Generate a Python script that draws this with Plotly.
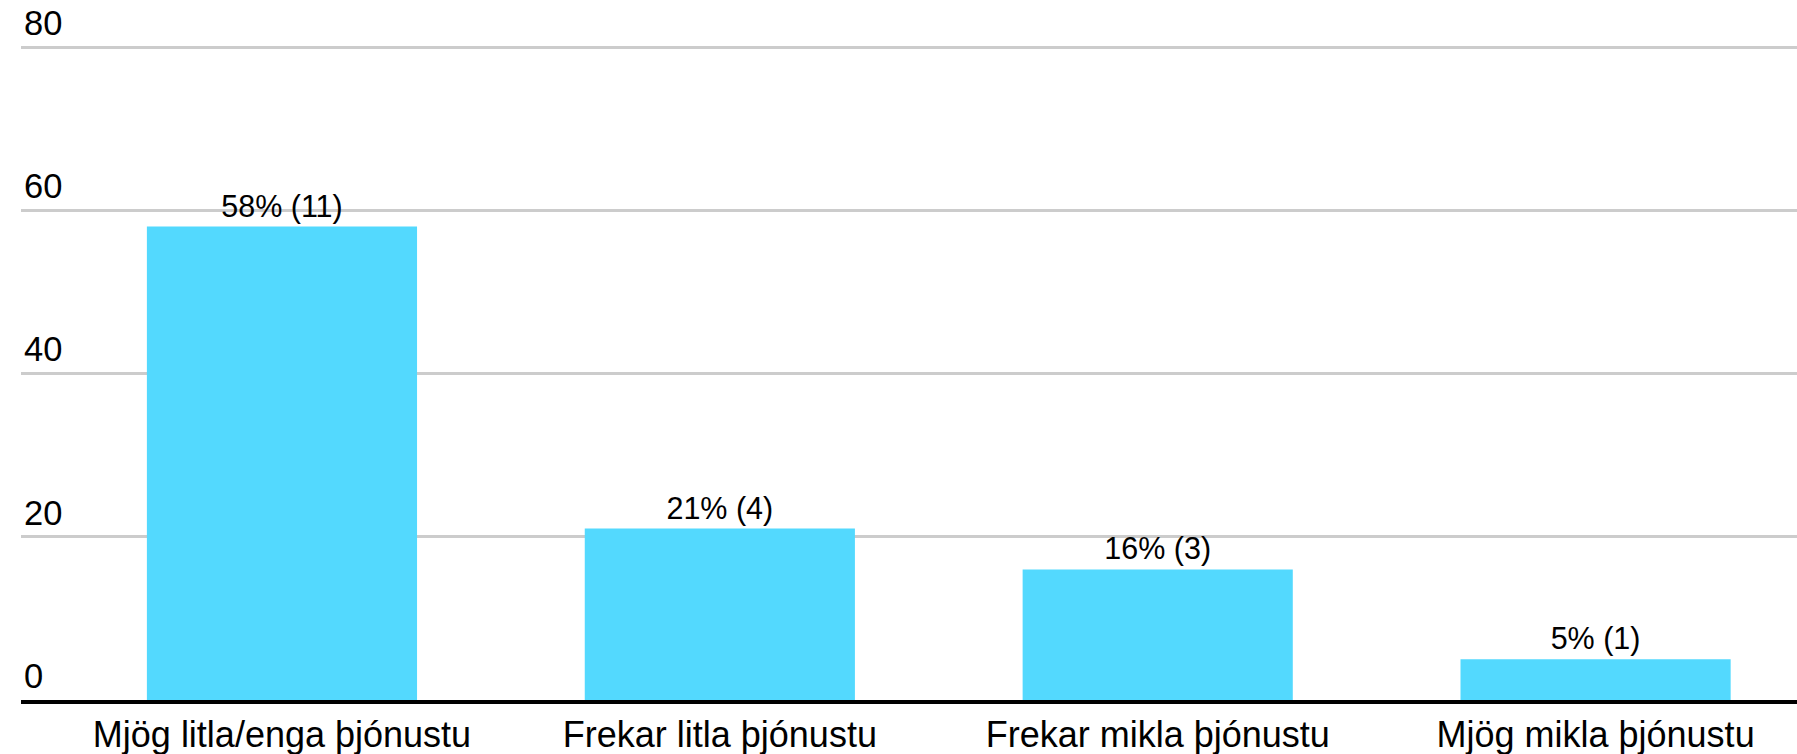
import plotly.graph_objects as go

categories = ["Mjög litla/enga þjónustu", "Frekar litla þjónustu", "Frekar mikla þjónustu", "Mjög mikla þjónustu"]
percent = [58, 21, 16, 5]
counts = [11, 4, 3, 1]
y_ticks = [0, 20, 40, 60, 80]

labels = [f"{p}% ({c})" for p, c in zip(percent, counts)]

FONT = "Arial, Liberation Sans, sans-serif"

fig = go.Figure(
    go.Bar(
        x=categories,
        y=percent,
        text=labels,
        textposition="outside",
        textfont=dict(family=FONT, size=30.5, color="#000000"),
        marker=dict(color="#53d9fe", line=dict(width=0)),
        width=0.617,
        cliponaxis=False,
    )
)

fig.update_layout(
    width=1797,
    height=754,
    margin=dict(l=21, r=0, t=43, b=54),
    paper_bgcolor="white",
    plot_bgcolor="white",
    showlegend=False,
    font=dict(family=FONT, color="#000000"),
    xaxis=dict(
        type="category",
        range=[-0.596, 3.46],
        showline=True,
        linecolor="#000000",
        linewidth=4,
        ticks="",
        showgrid=False,
        tickfont=dict(family=FONT, size=36, color="#000000"),
        fixedrange=True,
    ),
    yaxis=dict(
        range=[0, 80.49],
        tickvals=y_ticks,
        showgrid=True,
        gridcolor="#cccccc",
        gridwidth=2.5,
        zeroline=False,
        showline=False,
        ticks="",
        ticklabelposition="inside top",
        ticklabeloverflow="allow",
        tickfont=dict(family=FONT, size=34.5, color="#000000"),
        fixedrange=True,
    ),
    bargap=0.3,
)

fig.write_html(
    "out.html",
    config={"displayModeBar": False},
    post_script="document.body.style.margin='0';document.body.style.overflow='hidden';",
)
